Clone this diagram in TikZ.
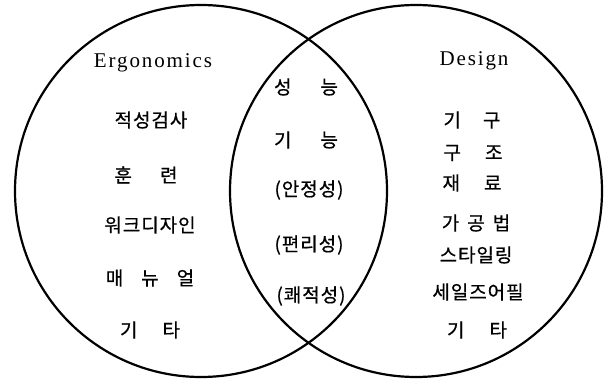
\documentclass[tikz,border=0pt]{standalone}
\usepackage{fontspec}
\setmainfont{Liberation Serif}
\newfontfamily\krfont[LetterSpace=5,FakeBold=0.6]{Noto Sans CJK KR}
\newfontfamily\enfont[LetterSpace=9]{Liberation Serif}
\begin{document}
\begin{tikzpicture}[x=1pt,y=-1pt,
  kt/.style={font=\krfont\fontsize{19}{22}\selectfont, inner sep=0pt},
  et/.style={font=\enfont\fontsize{21}{24}\selectfont, inner sep=0pt},
  ring/.style={draw=black, line width=2.2pt, circle, minimum size=372pt, inner sep=0pt}]
\useasboundingbox (0,0) rectangle (612,379);
\node[ring] (L) at (201,191) {};
\node[ring] (R) at (416,191) {};
% left
\node[et] (erg) at (153,63) {Ergonomics};
\node[kt] (l1) at (151,120) {적성검사};
\node[kt] (l2) at (146,175) {훈\hspace{28pt}련};
\node[kt] (l3) at (150,225) {워크디자인};
\node[kt] (l4) at (150,278) {매\hspace{18pt}뉴\hspace{18pt}얼};
\node[kt] (l5) at (150,330) {기\hspace{25pt}타};
% middle
\node[kt] (m1) at (306,87) {성\hspace{29pt}능};
\node[kt] (m2) at (306,140) {기\hspace{29pt}능};
\node[kt] (m3) at (309,190) {(안정성)};
\node[kt] (m4) at (309,245) {(편리성)};
\node[kt] (m5) at (311,296) {(쾌적성)};
% right
\node[et] (des) at (474,61) {Design};
\node[kt] (r1) at (472,120) {기\hspace{22pt}구};
\node[kt] (r2) at (473,153) {구\hspace{24pt}조};
\node[kt] (r3) at (472,183) {재\hspace{24pt}료};
\node[kt] (r4) at (476,223) {가\hspace{8pt}공\hspace{8pt}법};
\node[kt] (r5) at (476,255) {스타일링};
\node[kt] (r6) at (478,292) {세일즈어필};
\node[kt] (r7) at (477,330) {기\hspace{25pt}타};
\end{tikzpicture}
\end{document}
